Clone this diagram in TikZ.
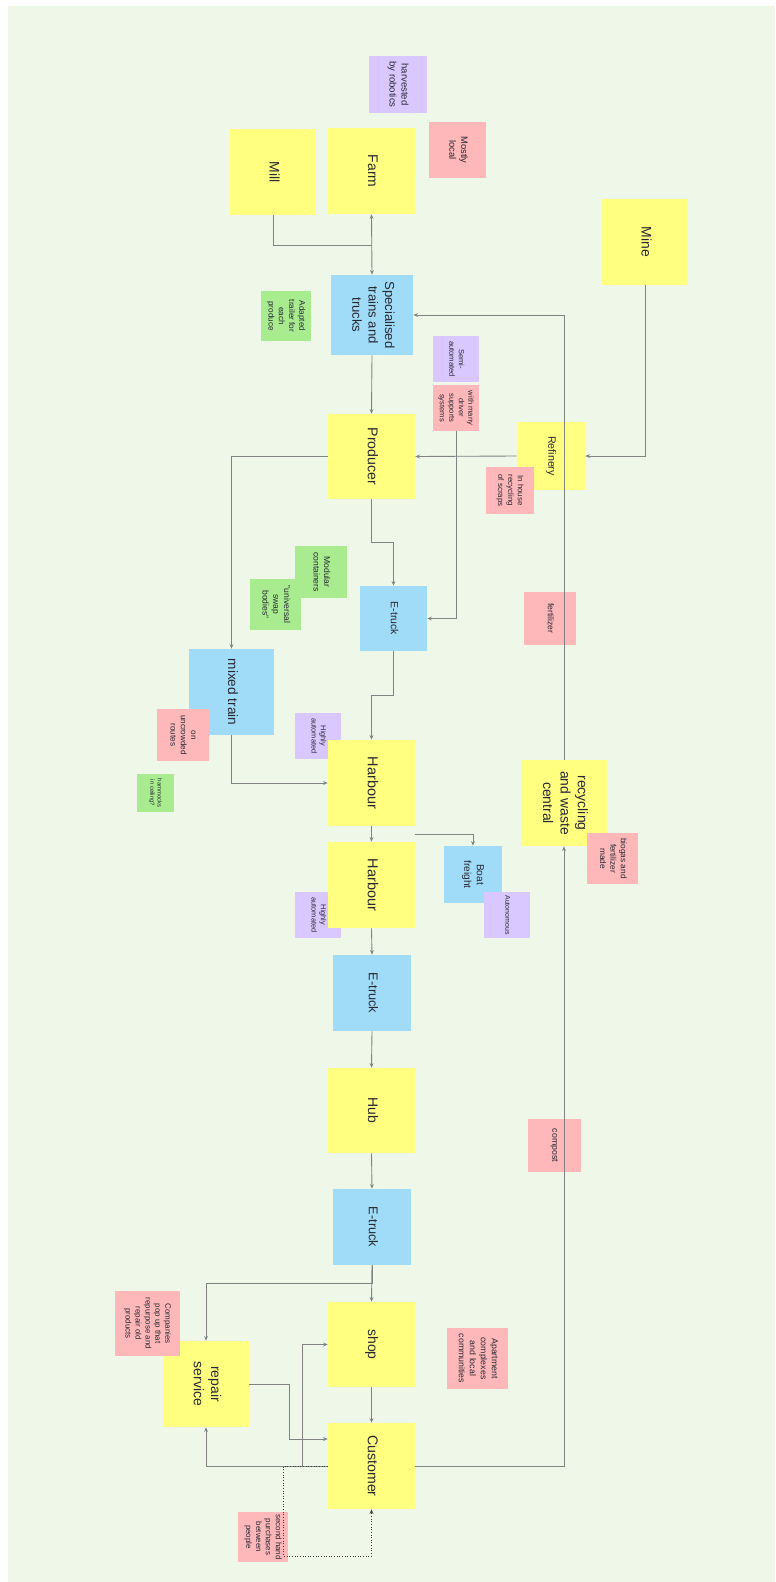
\documentclass[tikz,border=0pt]{standalone}
\usepackage{fontspec}
\setmainfont{Liberation Sans}
\usetikzlibrary{arrows.meta,calc}

\definecolor{bgpanel}{RGB}{239,248,232}
\definecolor{noteyel}{RGB}{255,255,128}
\definecolor{noteblue}{RGB}{160,220,248}
\definecolor{notepink}{RGB}{255,184,186}
\definecolor{notepurp}{RGB}{216,200,255}
\definecolor{notegreen}{RGB}{168,236,143}
\definecolor{linegray}{RGB}{130,130,130}
\definecolor{inkdark}{RGB}{40,40,50}

% text is turned a quarter clockwise on every sticky note
\newcommand\rtext[1]{\rotatebox{-90}{\begin{tabular}{@{}c@{}}#1\end{tabular}}}
\newcommand\pxsize[1]{\fontsize{\fpeval{#1*0.567}pt}{\fpeval{#1*0.567*1.25}pt}\selectfont}

\tikzset{
  sticky/.style={inner sep=0pt, text=inkdark},
  sq/.style n args={2}{minimum width=#1*0.02cm, minimum height=#2*0.02cm},
  yel/.style={sticky, fill=noteyel},
  blu/.style={sticky, fill=noteblue},
  pnk/.style={sticky, fill=notepink},
  pur/.style={sticky, fill=notepurp},
  grn/.style={sticky, fill=notegreen},
  flow/.style={draw=linegray, line width=0.5pt},
}

\begin{document}
\begin{tikzpicture}[x=0.02cm,y=-0.02cm,>={Stealth[length=2.6pt,width=2.2pt]}]
\useasboundingbox (0,0) rectangle (775,1582);
\fill[bgpanel] (8,6) rectangle (775,1582);

% supply side
\node[pur,sq={58}{57},font=\pxsize{9.6}] (harvest) at (398,84.5) {\rtext{harvested\\by robotics}};
\node[pnk,sq={57}{56},font=\pxsize{9.4}] (local) at (457.5,150) {\rtext{Mostly\\local}};
\node[yel,sq={86}{86},font=\pxsize{14}] (mill) at (273,172) {\rtext{Mill}};
\node[yel,sq={87}{86},font=\pxsize{14}] (farm) at (371.5,171) {\rtext{Farm}};
\node[yel,sq={86}{86},font=\pxsize{14}] (mine) at (645,242) {\rtext{Mine}};
\node[blu,sq={82}{80},font=\pxsize{13.2}] (trains) at (372,315) {\rtext{Specialised\\trains and\\trucks}};
\node[grn,sq={50}{50},font=\pxsize{8.2}] (trailer) at (286,316) {\rtext{Adapted\\trailer for\\each\\produce}};
\node[pur,sq={46}{46},font=\pxsize{7.6}] (semi) at (456,359) {\rtext{Semi-\\automated}};
\node[pnk,sq={46}{46},font=\pxsize{7.6}] (driver) at (456,408) {\rtext{with many\\driver\\supports\\systems}};
\node[yel,sq={87}{85},font=\pxsize{14.2}] (producer) at (371.5,456.5) {\rtext{Producer}};
\node[yel,sq={68}{68},font=\pxsize{10.7}] (refinery) at (551,456) {\rtext{Refinery}};
\node[pnk,sq={48}{47},font=\pxsize{7.9}] (scraps) at (510,490.5) {\rtext{In house\\recycling\\of scraps}};

% middle part
\node[grn,sq={52}{52},font=\pxsize{8.6}] (modular) at (321,572) {\rtext{Modular\\containers}};
\node[grn,sq={51}{51},font=\pxsize{8.6}] (swap) at (275.5,604.5) {\rtext{"universal\\swap\\bodies"}};
\node[blu,sq={67}{65},font=\pxsize{10.5}] (etruckA) at (393.5,618.5) {\rtext{E-truck}};
\node[pnk,sq={52}{53},font=\pxsize{8.6}] (fert) at (550,618.5) {\rtext{fertilizer}};
\node[blu,sq={85}{86},font=\pxsize{13.7}] (mixed) at (231.5,692) {\rtext{mixed train}};
\node[pnk,sq={52}{52},font=\pxsize{8.2}] (uncrowd) at (183,735) {\rtext{on\\uncrowded\\routes}};
\node[pur,sq={46}{46},font=\pxsize{7.4}] (autoA) at (318,736) {\rtext{Highly\\automated}};
\node[yel,sq={87}{86},font=\pxsize{14.5}] (harbA) at (371.5,783) {\rtext{Harbour}};
\node[grn,sq={37}{38},font=\pxsize{5.9}] (hammock) at (155.5,793) {\rtext{hammocks\\in ceiling?}};
\node[pur,sq={46}{46},font=\pxsize{7.4}] (autoB) at (318,915) {\rtext{Highly\\automated}};
\node[yel,sq={87}{86},font=\pxsize{14.5}] (harbB) at (371.5,885) {\rtext{Harbour}};
\node[blu,sq={58}{57},font=\pxsize{10.2}] (boat) at (473,874.5) {\rtext{Boat\\freight}};
\node[pur,sq={46}{46},font=\pxsize{7}] (autonom) at (507,915) {\rtext{Autonomous}};
\node[yel,sq={86}{86},font=\pxsize{14}] (recycle) at (564,803) {\rtext{recycling\\and waste\\central}};
\node[pnk,sq={51}{51},font=\pxsize{8.3}] (biogas) at (612.5,858.5) {\rtext{biogas and\\fertilizer\\made}};

% delivery side
\node[blu,sq={78}{76},font=\pxsize{12.8}] (etruckB) at (372,993) {\rtext{E-truck}};
\node[yel,sq={87}{85},font=\pxsize{14}] (hub) at (371.5,1110.5) {\rtext{Hub}};
\node[pnk,sq={53}{53},font=\pxsize{8.8}] (compost) at (554.5,1145.5) {\rtext{compost}};
\node[blu,sq={78}{76},font=\pxsize{12.8}] (etruckC) at (372,1227) {\rtext{E-truck}};
\node[yel,sq={87}{85},font=\pxsize{14}] (shop) at (371.5,1344.5) {\rtext{shop}};
\node[pnk,sq={61}{61},font=\pxsize{8.8}] (apart) at (477.5,1358.5) {\rtext{Apartment\\complexes\\and local\\communities}};
\node[yel,sq={86}{86},font=\pxsize{14}] (repair) at (206,1384) {\rtext{repair\\service}};
\node[pnk,sq={65}{65},font=\pxsize{8}] (compan) at (147.5,1323.5) {\rtext{Companies\\pop up that\\repurpose and\\repair old\\products}};
\node[yel,sq={87}{86},font=\pxsize{14.2}] (customer) at (371.5,1466) {\rtext{Customer}};
\node[pnk,sq={50}{50},font=\pxsize{8}] (second) at (263,1537) {\rtext{second hand\\purchases\\between\\people}};

% connectors
\coordinate (millfarm) at (371.5,245);
\draw[flow] (mill.south) |- (millfarm);
\draw[flow,<->] (farm.south) -- (trains.north);
\draw[flow,->] (trains.south) -- (producer.north);
\draw[flow,->] (mine.south) |- (refinery.east);
\draw[flow,->] (refinery.west) -- (producer.east);
\draw[flow,->] (driver.south) |- (etruckA.east);
\draw[flow,->] (producer.south) -- ++(0,43) -| (etruckA.north);
\draw[flow,->] (producer.west) -| (mixed.north);
\draw[flow,->] (etruckA.south) -- ++(0,44) -| (harbA.north);
\draw[flow,->] (mixed.south) |- (harbA.west);
\draw[flow,->] (harbA.south) -- (harbB.north);
\draw[flow,->] ($(harbA.south east)+(0,8)$) -| (boat.north);
\draw[flow,->] (harbB.south) -- (etruckB.north);
\draw[flow,->] (etruckB.south) -- (hub.north);
\draw[flow,->] (hub.south) -- (etruckC.north);
\draw[flow,->] (etruckC.south) -- (shop.north);
\draw[flow,->] (etruckC.south) -- ++(0,18) -| (repair.north);
\draw[flow,->] (shop.south) -- (customer.north);
\draw[flow,->] (repair.east) -- ++(40,0) |- ($(customer.west)+(0,-27)$);
\draw[flow,->] (customer.west) -| (repair.south);
\draw[flow,->] (customer.west) -- ++(-25,0) |- (shop.west);
\draw[flow,->] (customer.east) -| (recycle.south);
\draw[flow,->] (recycle.north) |- (trains.east);
\draw[flow,->,densely dotted,draw=black!75] (customer.west) -- ++(-44,0) -- ++(0,90) -| (customer.south);
\end{tikzpicture}
\end{document}
